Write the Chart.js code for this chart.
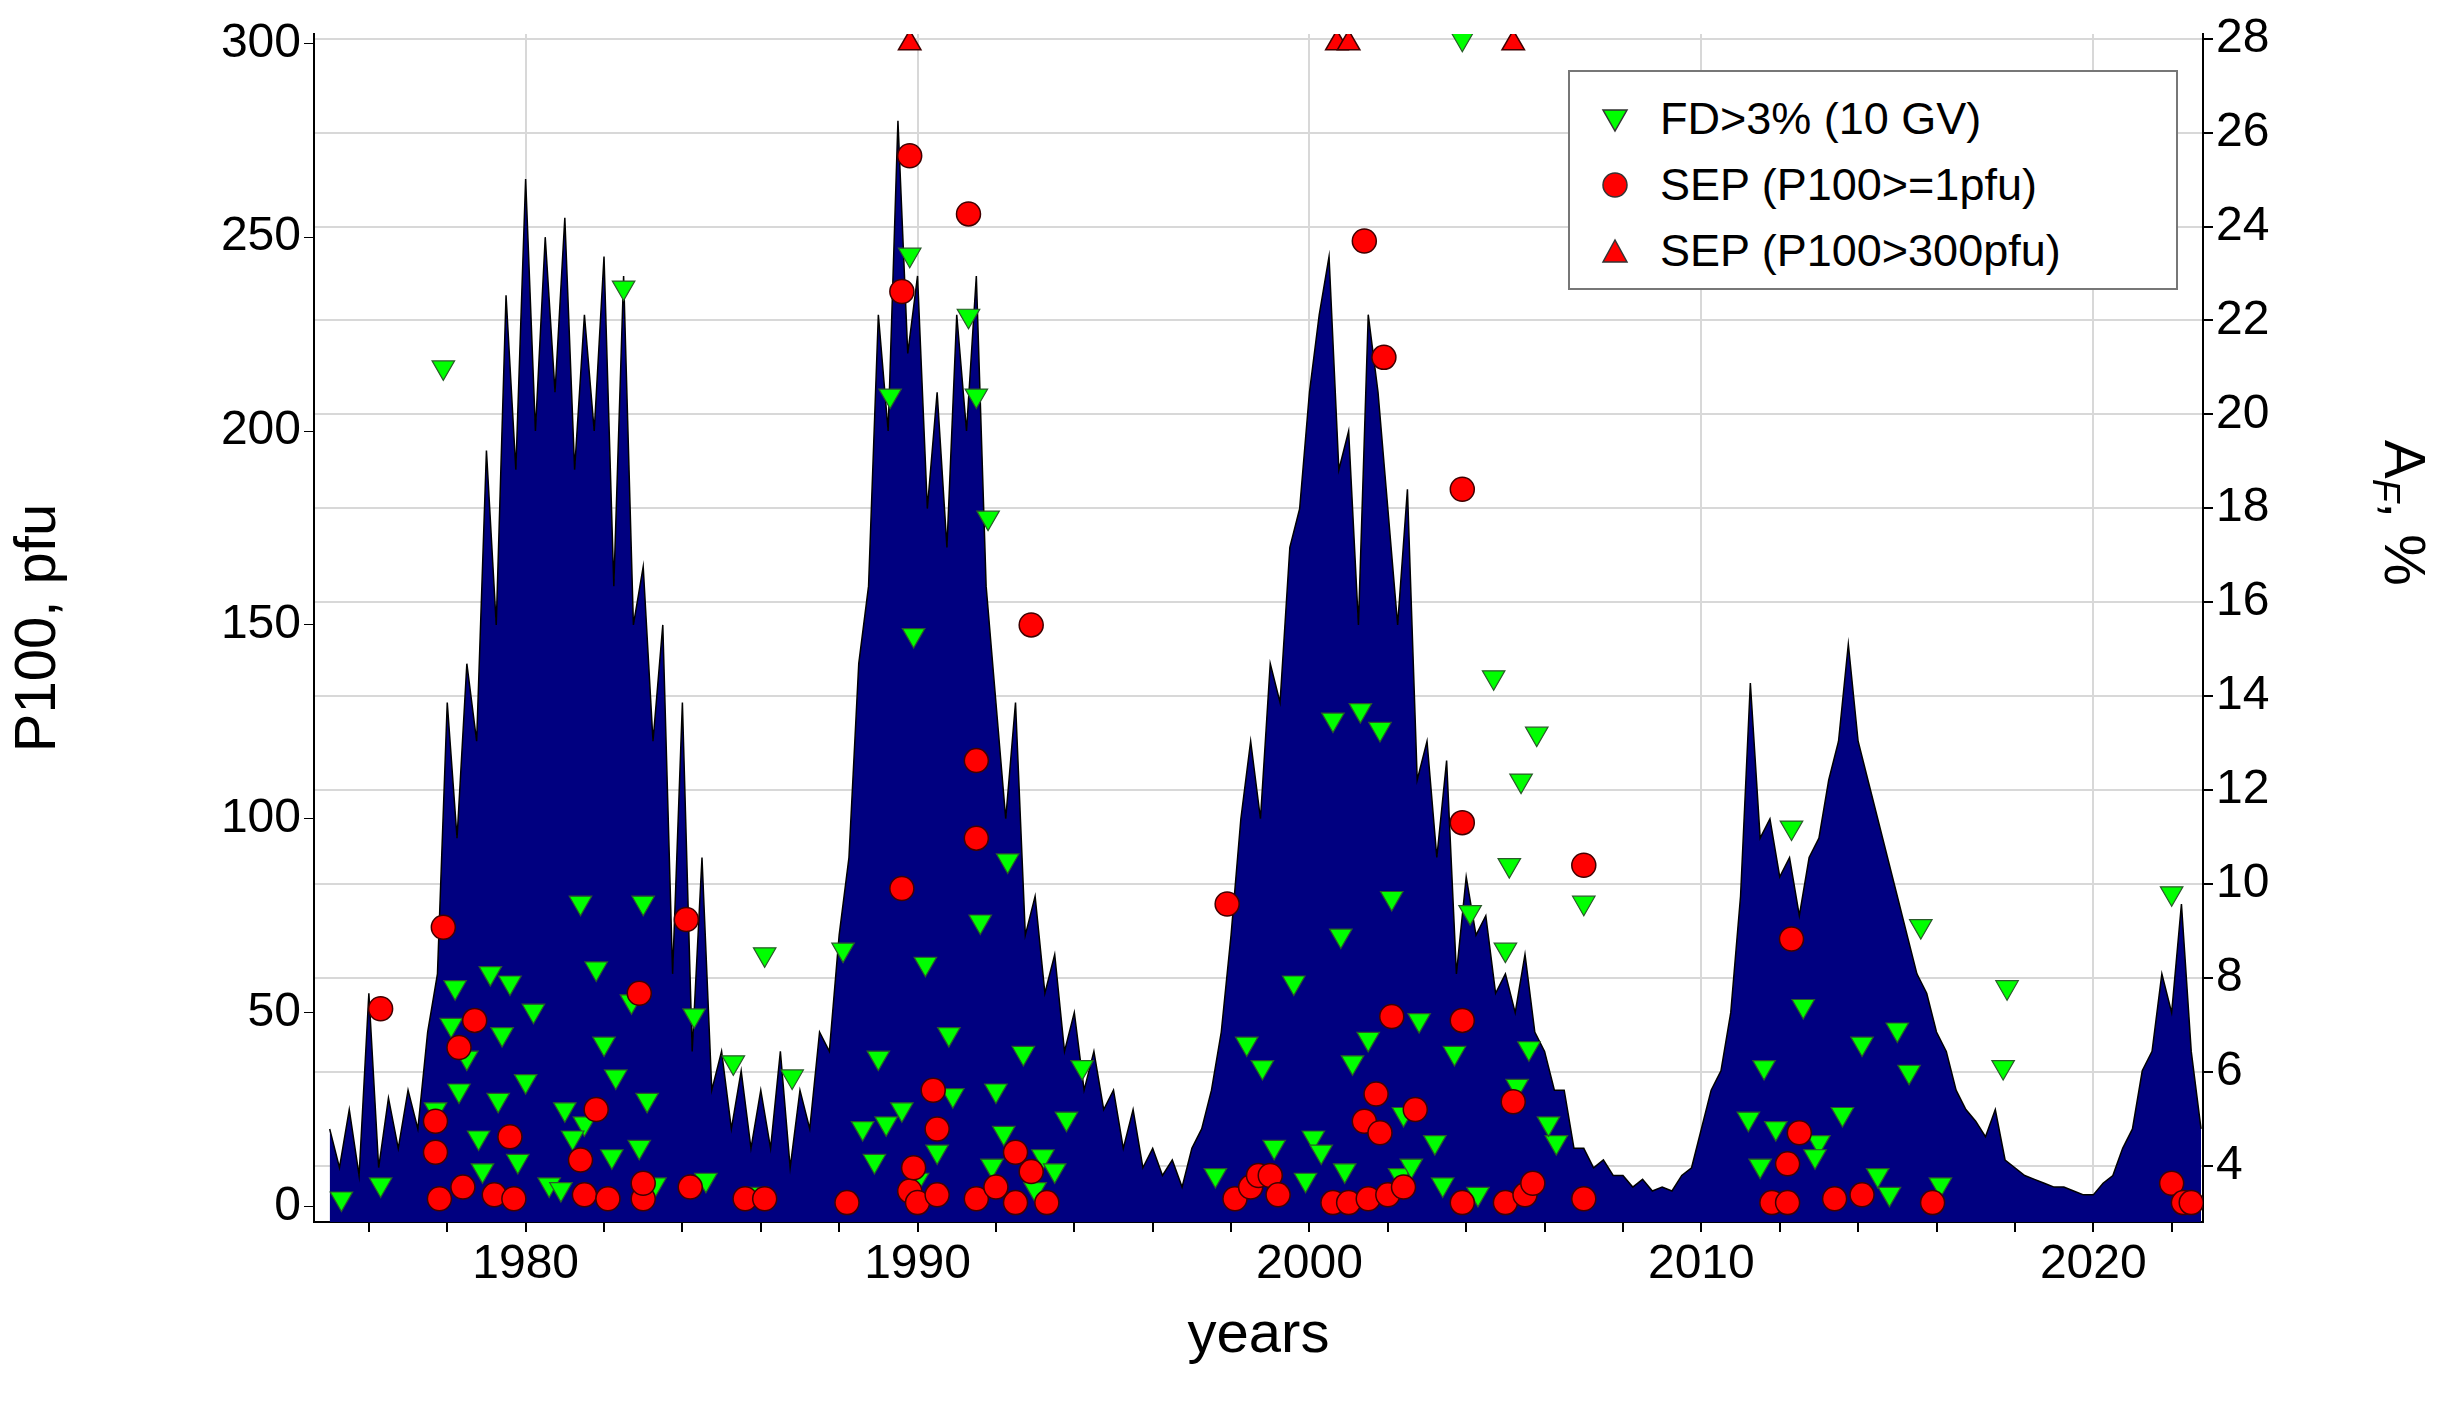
<!DOCTYPE html>
<html>
<head>
<meta charset="utf-8">
<script src="https://cdn.jsdelivr.net/npm/chart.js@4"></script>
<style>
  html, body { margin: 0; padding: 0; background: #fff; }
  #wrap { position: relative; width: 2446px; height: 1401px; }
  #legend {
    position: absolute; left: 1568px; top: 70px; width: 610px; height: 220px;
    border: 2px solid #777; background: #fff; box-sizing: border-box;
    font-family: "Liberation Sans", Arial, sans-serif; font-size: 45px; color: #000;
    padding: 14px 0 0 30px;
  }
  #legend div { height: 66px; line-height: 66px; display: flex; align-items: center; }
  #legend span.m { width: 60px; display: inline-block; }
</style>
</head>
<body>
<div id="wrap">
  <canvas id="c" width="2446" height="1401"></canvas>
  <div id="legend">
    <div><span class="m"><svg width="30" height="30"><polygon points="3,6 27,6 15,27" fill="#00ff00" stroke="#333" stroke-width="1.5"/></svg></span>FD&gt;3% (10 GV)</div>
    <div><span class="m"><svg width="30" height="30"><circle cx="15" cy="15" r="12" fill="#ff0000" stroke="#333" stroke-width="1.5"/></svg></span>SEP (P100&gt;=1pfu)</div>
    <div><span class="m"><svg width="30" height="30"><polygon points="3,26 27,26 15,4" fill="#ff0000" stroke="#333" stroke-width="1.5"/></svg></span>SEP (P100&gt;300pfu)</div>
  </div>
</div>
<script>
// quarterly P100 envelope, starting 1975.0
const startYear = 1975;
const p100Quarterly = [
  20, 10, 25, 8,    55, 10, 28, 15,   30, 20, 45, 60,   130, 95, 140, 120,
  195, 150, 235, 190, 265, 200, 250, 210, 255, 190, 230, 200, 245, 160, 240, 150,
  165, 120, 150, 60, 130, 40, 90, 30,  40, 20, 35, 15,   30, 15, 40, 10,
  30, 20, 45, 40,   70, 90, 140, 160, 230, 200, 280, 220, 240, 180, 210, 170,
  230, 200, 240, 160, 130, 100, 130, 70, 80, 55, 65, 40, 50, 30, 40, 25,
  30, 15, 25, 10,   15, 8, 12, 5,     15, 20, 30, 45,   70, 100, 120, 100,
  140, 130, 170, 180, 210, 230, 245, 190, 200, 150, 230, 210, 180, 150, 185, 110,
  120, 90, 115, 60, 85, 70, 75, 55,   60, 50, 65, 45,   40, 30, 30, 15,
  15, 10, 12, 8,    8, 5, 7, 4,       5, 4, 8, 10,      20, 30, 35, 50,
  80, 135, 95, 100, 85, 90, 75, 90,   95, 110, 120, 145, 120, 110, 100, 90,
  80, 70, 60, 55,   45, 40, 30, 25,   22, 18, 25, 12,   10, 8, 7, 6,
  5, 5, 4, 3,       3, 6, 8, 15,      20, 35, 40, 60,   50, 78, 40, 20
];

// Forbush decreases: year, amplitude %
const fdYears = [
  1975.3, 1976.3, 1977.7, 1977.9, 1978.1, 1978.2, 1978.3, 1978.5, 1978.8, 1979.1, 1979.3, 1979.6, 1979.8, 1980.2, 1980.6, 1981.0, 1981.4, 1981.5, 1981.8, 1982.0, 1982.2, 1982.5, 1982.7, 1983.0, 1983.1, 1984.3, 1984.6, 1985.3, 1986.1, 1986.8,
  1988.1, 1988.6, 1989.0, 1989.3, 1989.6, 1989.8, 1989.9, 1990.2, 1990.5, 1990.8, 1991.3, 1991.5, 1991.6, 1991.8, 1992.0, 1992.3, 1992.7, 1993.2, 1993.8, 1994.2,
  1997.6, 1998.4, 1998.8, 1999.1, 1999.6, 2000.1, 2000.6, 2000.8, 2001.3, 2001.5, 2001.8, 2002.1, 2002.4, 2002.8, 2003.2, 2003.7, 2003.9, 2004.1, 2004.7, 2005.0, 2005.1, 2005.4, 2005.6, 2005.8, 2006.3, 2007.0,
  2011.2, 2011.6, 2011.9, 2012.3, 2012.6, 2013.0, 2013.6, 2014.1, 2014.5, 2015.0, 2015.3, 2015.6, 2016.1, 2017.7, 2017.8, 2022.0,
  1978.9, 1979.4, 1980.0, 1980.9, 1981.2, 1982.3, 1982.9, 1983.3, 1985.9, 1988.9, 1989.2, 1990.0, 1990.9, 1991.9, 1992.2, 1993.0, 1993.5, 1999.9, 2000.3, 2000.9, 2001.1, 2002.3, 2002.6, 2003.4, 2004.3, 2005.3, 2006.1, 2011.5, 2012.9, 2014.8
];
const fdValues = [
  3.3, 3.6, 5.2, 21.0, 7.0, 7.8, 5.6, 6.3, 4.6, 8.1, 5.4, 7.9, 4.1, 7.3, 3.6, 5.2, 9.6, 4.9, 8.2, 6.6, 4.2, 22.7, 7.5, 9.6, 5.4, 7.2, 3.7, 6.2, 8.5, 5.9,
  8.6, 4.8, 6.3, 20.4, 5.2, 23.4, 15.3, 8.3, 4.3, 6.8, 22.1, 20.4, 9.2, 17.8, 5.6, 10.5, 6.4, 4.2, 5.0, 6.1,
  3.8, 6.6, 6.1, 4.4, 7.9, 4.6, 13.5, 8.9, 13.7, 6.7, 13.3, 9.7, 5.1, 7.1, 4.5, 6.4, 28.0, 9.4, 14.4, 8.6, 10.4, 12.2, 6.5, 13.2, 4.5, 9.6,
  5.0, 6.1, 4.8, 11.2, 7.4, 4.5, 5.1, 6.6, 3.8, 6.9, 6.0, 9.1, 3.6, 6.1, 7.8, 9.8,
  3.9, 6.8, 5.8, 3.5, 4.6, 5.9, 4.4, 3.6, 3.4, 4.1, 4.9, 3.7, 5.5, 4.0, 4.7, 3.5, 3.9, 3.7, 4.3, 3.9, 6.2, 3.8, 4.0, 3.6, 3.4, 5.7, 4.9, 4.0, 4.2, 3.4
];

// SEP events, P100 >= 1 pfu
const sepYears = [
  1976.3, 1977.7, 1977.7, 1977.8, 1977.9, 1978.3, 1978.4, 1978.7, 1979.2, 1979.6, 1979.7, 1981.4, 1981.5, 1981.8, 1982.1, 1982.9, 1983.0, 1983.0, 1984.1, 1984.2, 1985.6, 1986.1,
  1988.2, 1989.6, 1989.6, 1989.8, 1989.8, 1989.9, 1990.0, 1990.4, 1990.5, 1990.5, 1991.3, 1991.5, 1991.5, 1991.5, 1992.0, 1992.5, 1992.5, 1992.9, 1992.9, 1993.3,
  1997.9, 1998.1, 1998.5, 1998.7, 1999.0, 1999.2, 2000.6, 2001.0, 2001.4, 2001.4, 2001.5, 2001.7, 2001.8, 2001.9, 2002.0, 2002.1, 2002.4, 2002.7, 2003.9, 2003.9, 2003.9, 2003.9, 2005.0, 2005.2, 2005.5, 2005.7, 2007.0, 2007.0,
  2011.8, 2012.2, 2012.2, 2012.3, 2012.5, 2013.4, 2014.1, 2015.9, 2022.0, 2022.3, 2022.5
];
const sepValues = [
  51, 22, 14, 2, 72, 41, 5, 48, 3, 18, 2, 12, 3, 25, 2, 55, 2, 6, 74, 5, 2, 2,
  1, 236, 82, 271, 4, 10, 1, 30, 20, 3, 256, 115, 95, 2, 5, 14, 1, 150, 9, 1,
  78, 2, 5, 8, 8, 3, 1, 1, 249, 22, 2, 29, 19, 219, 3, 49, 5, 25, 185, 99, 48, 1, 1, 27, 3, 6, 88, 2,
  1, 11, 1, 69, 19, 2, 3, 1, 6, 1, 1
];

// SEP events above 300 pfu (clipped to top)
const bigSepYears = [1989.8, 2000.7, 2001.0, 2005.2];
const bigSepValue = 300;

const areaData = p100Quarterly.map((v, i) => ({ x: startYear + i * 0.25, y: v }));
const fdData = fdYears.map((x, i) => ({ x: x, y: fdValues[i] }));
const sepData = sepYears.map((x, i) => ({ x: x, y: sepValues[i] }));
const bigData = bigSepYears.map(x => ({ x: x, y: bigSepValue }));

const FONT = '"Liberation Sans", Arial, sans-serif';
const GRID = '#d8d8d8';

// right axis title with subscript
const afTitle = {
  id: 'afTitle',
  afterDraw(chart) {
    const ctx = chart.ctx;
    ctx.save();
    ctx.translate(2385, 440);
    ctx.rotate(Math.PI / 2);
    ctx.fillStyle = '#000';
    ctx.textBaseline = 'alphabetic';
    ctx.font = '58px ' + FONT;
    ctx.fillText('A', 0, 0);
    let w = ctx.measureText('A').width;
    ctx.font = 'italic 38px ' + FONT;
    ctx.fillText('F', w, 12);
    w += ctx.measureText('F').width;
    ctx.font = '58px ' + FONT;
    ctx.fillText(', %', w, 0);
    ctx.restore();
  }
};

new Chart(document.getElementById('c'), {
  data: {
    datasets: [
      {
        type: 'line', data: areaData, yAxisID: 'y', order: 3,
        borderColor: '#000', borderWidth: 1.5, backgroundColor: '#000080',
        fill: 'start', pointRadius: 0, tension: 0
      },
      {
        type: 'scatter', data: fdData, yAxisID: 'y2', order: 1,
        pointStyle: 'triangle', rotation: 180, pointRadius: 13,
        backgroundColor: '#00ff00', borderColor: '#2a5a2a', borderWidth: 1.2
      },
      {
        type: 'scatter', data: sepData, yAxisID: 'y', order: 0,
        pointStyle: 'circle', pointRadius: 12,
        backgroundColor: '#ff0000', borderColor: '#400000', borderWidth: 1.5
      },
      {
        type: 'scatter', data: bigData, yAxisID: 'y', order: 0,
        pointStyle: 'triangle', pointRadius: 13,
        backgroundColor: '#ff0000', borderColor: '#400000', borderWidth: 1.5
      }
    ]
  },
  options: {
    responsive: false, animation: false,
    layout: { padding: { top: 34, bottom: 30 } },
    plugins: { legend: { display: false }, tooltip: { enabled: false } },
    scales: {
      x: {
        type: 'linear', min: 1974.6, max: 2022.8,
        afterFit(s) { s.height = 149; },
        border: { color: '#000', width: 2 },
        grid: {
          color: c => (Math.round(c.tick.value) % 10 === 0 ? GRID : 'rgba(0,0,0,0)'),
          tickColor: '#000', tickLength: 10, lineWidth: 2
        },
        ticks: {
          stepSize: 2, autoSkip: false, includeBounds: false,
          callback: v => (v % 10 === 0 ? String(v) : ''),
          font: { family: FONT, size: 48 }, color: '#000', maxRotation: 0, padding: 4
        },
        title: { display: true, text: 'years', font: { family: FONT, size: 58 }, color: '#000', padding: 0 }
      },
      y: {
        position: 'left', min: -4, max: 302.4,
        afterFit(s) { s.width = 314; },
        border: { color: '#000', width: 2 },
        grid: { drawOnChartArea: false, tickColor: '#000', tickLength: 10 },
        ticks: {
          font: { family: FONT, size: 48 }, color: '#000',
          callback: v => String(v)
        },
        afterBuildTicks(s) { s.ticks = [0, 50, 100, 150, 200, 250, 300].map(v => ({ value: v })); },
        title: { display: true, text: 'P100, pfu', font: { family: FONT, size: 58 }, color: '#000', padding: { bottom: 20 } }
      },
      y2: {
        position: 'right', min: 2.8, max: 28.1,
        afterFit(s) { s.width = 243; },
        border: { color: '#000', width: 2 },
        grid: { drawOnChartArea: true, color: GRID, lineWidth: 2, tickColor: '#000', tickLength: 10 },
        afterBuildTicks(s) { s.ticks = [4, 6, 8, 10, 12, 14, 16, 18, 20, 22, 24, 26, 28].map(v => ({ value: v })); },
        ticks: { font: { family: FONT, size: 48 }, color: '#000' }
      }
    }
  },
  plugins: [afTitle]
});
</script>
</body>
</html>
